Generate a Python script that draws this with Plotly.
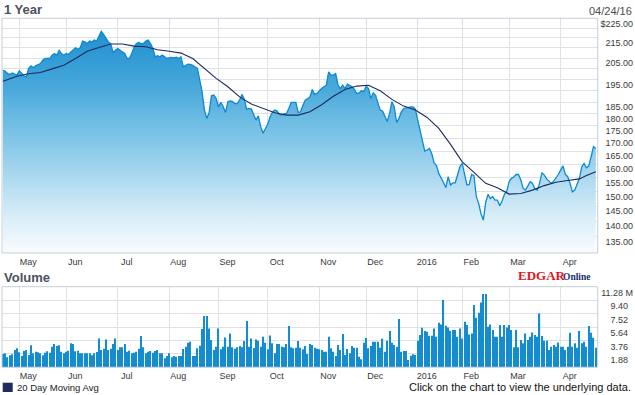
import math
import plotly.graph_objects as go

# ---------------- data ----------------
# trading-day index 0 = 2015-04-22 ... 253 = 2016-04-22
month_idx = [7, 27, 49, 71, 92, 113, 135, 155, 177, 196, 216, 238]
month_labels = ["May", "Jun", "Jul", "Aug", "Sep", "Oct", "Nov", "Dec", "2016", "Feb", "Mar", "Apr"]

price = [
    199.3,
    198.9, 197.8, 197.4, 198.1, 197.5, 197.1, 199.1, 198.1, 196.8, 196.3,
    200.2, 201.4, 200.5, 201.4, 202.0, 202.5, 204.1, 204.9, 204.9, 204.9,
    206.5, 207.3, 206.5, 208.9, 207.3, 206.5, 207.3, 206.8, 208.1, 208.9,
    210.1, 209.4, 210.1, 213.4, 213.0, 212.2, 213.4, 213.0, 213.9, 213.4,
    216.4, 218.4, 216.7, 214.7, 213.0, 212.2, 207.8, 208.9, 209.7, 208.9,
    208.1, 207.3, 204.9, 204.9, 207.3, 210.6, 212.2, 212.7, 212.2, 212.2,
    213.4, 213.9, 212.2, 209.7,
    205.7, 206.2, 205.7, 206.5, 205.7, 204.9, 205.2, 205.4, 205.2, 205.5,
    204.9, 205.7, 200.9, 201.4, 202.2, 202.1, 201.7, 200.9, 200.2, 194.8,
    189.5, 181.6, 178.1, 180.6, 187.8, 188.1, 186.6, 183.0, 184.9, 183.0,
    180.6, 185.2, 185.5, 185.2, 184.4, 184.4, 185.9, 188.4, 186.3, 182.0,
    182.3, 182.0, 179.5, 177.4, 179.2, 174.7, 172.0, 174.0, 175.7, 178.8,
    180.6, 181.6, 181.2, 179.8, 179.5, 180.0, 180.2, 182.3, 184.9, 184.9,
    184.9, 180.6, 180.9, 183.6,
    185.9, 186.5, 187.3, 190.6, 188.4, 188.8, 190.0, 191.0, 191.8, 192.5,
    198.6, 197.1, 197.1, 197.8, 192.5, 191.0, 192.5, 191.0, 193.0, 192.4,
    191.8, 190.6, 188.8, 189.1, 190.0, 189.6, 192.1, 191.0, 186.6, 189.1,
    188.1, 184.7, 181.6, 181.2, 178.8, 176.8, 180.2, 185.2, 183.0, 176.4,
    178.1, 180.9, 182.3, 182.6, 183.0, 183.0, 183.0, 181.9, 177.5, 173.0,
    170.0, 165.0, 165.4, 166.0, 164.0, 160.5, 159.5, 156.5, 155.0, 153.5,
    151.5, 155.4, 152.4, 153.2,
    153.2, 156.0, 159.1, 160.3, 156.6, 152.4, 152.6, 156.2, 155.8, 148.3,
    146.0, 142.5, 140.4, 146.3, 149.1, 147.7, 148.3, 147.1, 147.1, 145.2,
    146.8, 149.1, 150.2, 153.6, 154.8, 155.3, 156.2, 156.2, 154.2, 151.2,
    150.6, 152.2, 153.6, 153.0, 151.0, 150.6, 153.0, 156.9, 156.0, 154.6,
    153.6, 153.0, 153.8, 154.8, 156.2, 157.8, 159.4, 156.2, 155.4, 153.0,
    150.0, 150.6, 153.0, 154.8, 159.1, 160.3, 158.7, 159.4, 162.9, 166.7,
    166.0,
]

ma_idx = [0, 6, 11, 16, 21, 26, 31, 36, 41, 46, 51, 56, 61, 66, 71, 76, 81, 86,
          91, 96, 101, 106, 111, 116, 121, 126, 131, 136, 141, 146, 151, 156,
          161, 166, 171, 176, 181, 186, 191, 196, 201, 206, 211, 216, 221, 226,
          231, 236, 241, 246, 249, 253]
ma_val = [194.3, 196.6, 197.7, 198.3, 200.0, 201.7, 204.9, 208.4, 210.2, 212.0,
          212.0, 210.9, 210.6, 209.1, 208.4, 207.5, 204.9, 200.2, 195.6, 191.8,
          187.3, 184.2, 182.3, 180.5, 179.5, 179.5, 180.9, 183.9, 187.6, 190.6,
          192.1, 192.5, 190.0, 186.2, 183.3, 181.6, 178.5, 174.0, 167.6, 160.9,
          157.0, 153.0, 151.4, 149.2, 149.4, 150.6, 152.2, 153.4, 154.0, 154.6,
          155.8, 157.2]

volume = [  # millions of shares
    1.86, 1.95, 1.39, 1.67, 1.81, 2.42, 2.65, 2.09, 1.58, 2.28,
    2.42, 1.72, 3.07, 1.95, 2.19, 2.09, 1.95, 1.67, 2.05, 2.23,
    2.05, 2.89, 3.26, 2.98, 3.07, 2.19, 1.95, 2.19, 2.33, 3.35,
    3.26, 2.23, 2.33, 1.95, 1.95, 1.95, 1.95, 1.95, 1.67, 1.95,
    2.14, 4.05, 2.42, 2.61, 3.91, 2.42, 2.61, 3.26, 4.05, 2.42,
    2.79, 2.79, 3.26, 2.19, 2.33, 1.95, 2.05, 2.19, 2.61, 4.38,
    2.79, 1.95, 2.19, 2.28, 2.05, 2.28, 2.42, 1.95, 1.95, 1.25,
    1.58, 1.95, 1.39, 1.58, 1.49, 1.58, 1.58, 2.56, 2.89, 3.45,
    3.59, 1.58, 1.58, 2.65, 3.03, 5.36, 7.18, 7.18, 5.45, 3.82,
    2.42, 2.89, 5.45, 2.51, 2.89, 4.19, 2.89, 4.75, 2.79, 2.61,
    2.79, 2.98, 2.79, 3.68, 6.48, 2.89, 4.05, 2.70, 3.91, 3.73,
    2.89, 4.29, 3.45, 2.51, 4.47, 3.35, 1.95, 3.26, 3.26, 2.89,
    2.79, 3.26, 5.78, 2.79, 2.65, 2.75, 3.68, 2.75, 2.51, 2.98,
    1.86, 3.26, 3.12, 2.75, 2.61,
    2.51, 2.42, 2.19, 2.19, 4.29, 2.65, 2.19, 1.58, 3.12, 2.42,
    4.66, 1.72, 2.56, 1.95, 2.98, 2.75, 2.75, 1.49, 1.11, 3.45,
    4.10, 2.65, 2.98, 3.59, 3.59, 3.59, 2.75, 4.01, 2.19, 3.73,
    5.08, 3.45, 3.12, 2.89, 6.76, 2.19, 2.28, 2.28, 1.02, 1.63,
    1.81, 1.72, 3.73, 4.52, 5.55, 5.08, 4.99, 4.43, 4.43, 5.45,
    4.29, 6.25, 6.01, 9.42, 5.83, 5.59, 5.13, 5.22, 5.22, 4.29,
    5.45, 4.05, 6.39, 5.92, 4.61, 4.75, 8.72, 6.95, 7.65, 9.09,
    10.26, 10.26, 5.69, 6.01, 5.22, 4.29, 4.29, 5.92, 4.29, 5.92,
    5.59, 5.92, 5.22, 2.79, 5.22, 2.79, 3.82, 3.35, 4.75, 3.82,
    4.29, 4.89, 4.52, 4.29, 7.55, 4.38, 3.73, 3.73, 2.42, 2.89,
    3.12, 2.89, 3.49, 2.89, 2.89, 2.42, 2.89, 4.85, 2.89, 3.35,
    2.75, 5.08, 3.35, 3.59, 2.89, 5.78, 4.85, 4.15, 2.75,
]

price_ticks = [135, 140, 145, 150, 155, 160, 165, 170, 175, 180, 185, 190, 195,
               200, 205, 210, 215, 220, 225]
price_ticktext = ["135.00", "140.00", "145.00", "150.00", "155.00", "160.00",
                  "165.00", "170.00", "175.00", "180.00", "185.00", "", "195.00",
                  "", "205.00", "", "215.00", "", "$225.00"]
price_range = [130, 225]

vol_ticks = [1.88, 3.76, 5.64, 7.52, 9.40, 11.28]
vol_ticktext = ["1.88\u00a0\u00a0", "3.76\u00a0\u00a0", "5.64\u00a0\u00a0",
                "7.52\u00a0\u00a0", "9.40\u00a0\u00a0", "11.28 M"]
vol_range = [0, 11.28]

days = list(range(len(price)))

# ---------------- layout helpers ----------------
W, H = 635, 395
FONT = "Liberation Sans, Arial, sans-serif"
GRID = "#dde1e8"
BORDER = "#c8ced8"
TICKC = "#3a3a3a"
x_dom = [2 / W, 597.7 / W]
price_dom = [1 - 253 / H, 1 - 18.3 / H]
vol_dom = [1 - 367.3 / H, 1 - 286.7 / H]
x_range = [-0.38, 253.8]
ypos = 633 / W

fig = go.Figure()

fig.add_trace(go.Scatter(
    x=days, y=price, mode="lines", xaxis="x", yaxis="y",
    line=dict(color="#0b8ad2", width=1.3),
    fill="tozeroy",
    fillgradient=dict(
        type="vertical", start=price_range[0], stop=price_range[1],
        colorscale=[[0.0, "#f9fcfe"], [0.03, "#f3f9fd"], [0.14, "#dceff9"],
                    [0.29, "#b5ddf1"], [0.44, "#8bcbea"], [0.57, "#6cbce3"],
                    [0.69, "#4caadb"], [0.78, "#3aa0d7"], [0.89, "#2a95d2"],
                    [1.0, "#1a8bcd"]]),
    hoverinfo="skip", showlegend=False,
))
fig.add_trace(go.Scatter(
    x=ma_idx, y=ma_val, mode="lines", xaxis="x", yaxis="y",
    line=dict(color="#1c2a5e", width=1.1),
    hoverinfo="skip", showlegend=False,
))
fig.add_trace(go.Bar(
    x=days, y=volume, xaxis="x2", yaxis="y2", width=0.5,
    marker=dict(color="#168cd0", line=dict(width=0)),
    hoverinfo="skip", showlegend=False,
))

xcommon = dict(domain=x_dom, range=x_range, tickmode="array", tickvals=month_idx,
               ticktext=month_labels, ticks="", showgrid=True, gridcolor=GRID,
               gridwidth=1, zeroline=False, showline=False, ticklabelshift=9,
               ticklabelstandoff=2, automargin=False,
               tickfont=dict(family=FONT, size=9, color=TICKC))

fig.update_layout(
    width=W, height=H, autosize=False,
    margin=dict(l=0, r=0, t=0, b=0, pad=0, autoexpand=False),
    paper_bgcolor="white", plot_bgcolor="white",
    hovermode=False, showlegend=False,
    xaxis=dict(anchor="y", **xcommon),
    xaxis2=dict(anchor="y2", **xcommon),
    yaxis=dict(type="log", domain=price_dom,
               range=[math.log10(price_range[0]), math.log10(price_range[1]) + 0.0002],
               tickmode="array", tickvals=price_ticks, ticktext=price_ticktext,
               side="left", anchor="free", position=ypos, ticks="",
               showgrid=True, gridcolor=GRID, gridwidth=1, zeroline=False,
               showline=False, ticklabelshift=5, automargin=False,
               tickfont=dict(family=FONT, size=9, color=TICKC)),
    yaxis2=dict(domain=vol_dom, range=[vol_range[0], vol_range[1] * 1.0005],
                tickmode="array", tickvals=vol_ticks, ticktext=vol_ticktext,
                side="left", anchor="free", position=ypos, ticks="",
                showgrid=True, gridcolor=GRID, gridwidth=1, zeroline=False,
                showline=False, ticklabelshift=6, automargin=False,
                tickfont=dict(family=FONT, size=9, color=TICKC)),
    shapes=[
        dict(type="rect", xref="x domain", yref="y domain", x0=0, x1=1, y0=0, y1=1,
             line=dict(color=BORDER, width=1), layer="above"),
        dict(type="rect", xref="x2 domain", yref="y2 domain", x0=0, x1=1, y0=0, y1=1,
             line=dict(color=BORDER, width=1), layer="above"),
        dict(type="rect", xref="paper", yref="paper", x0=2.7 / W, x1=12.7 / W,
             y0=1 - 392 / H, y1=1 - 382.7 / H, fillcolor="#1f2d5e",
             line=dict(width=0)),
    ],
    annotations=[
        dict(text="<b>1 Year</b>", x=1.5 / W, y=1 - 9.5 / H, xref="paper", yref="paper",
             xanchor="left", yanchor="middle", showarrow=False,
             font=dict(family=FONT, size=13, color="#4b5262")),
        dict(text="<b>Volume</b>", x=1.5 / W, y=1 - 277.3 / H, xref="paper", yref="paper",
             xanchor="left", yanchor="middle", showarrow=False,
             font=dict(family=FONT, size=13, color="#4b5262")),
        dict(text="04/24/16", x=634 / W, y=1 - 10.8 / H, xref="paper", yref="paper",
             xanchor="right", yanchor="middle", showarrow=False,
             font=dict(family=FONT, size=11, color="#4d4d4d")),
        dict(text="<b>EDGAR</b>", x=516 / W, y=1 - 275.5 / H, xref="paper", yref="paper",
             xanchor="left", yanchor="middle", showarrow=False,
             font=dict(family="Liberation Serif, Times New Roman, serif", size=13,
                       color="#e3171e")),
        dict(text="<b>Online</b>", x=561 / W, y=1 - 277 / H, xref="paper", yref="paper",
             xanchor="left", yanchor="middle", showarrow=False,
             font=dict(family="Liberation Serif, Times New Roman, serif", size=9.5,
                       color="#1c2d6a")),
        dict(text="20 Day Moving Avg", x=14.5 / W, y=1 - 387.3 / H, xref="paper",
             yref="paper", xanchor="left", yanchor="middle", showarrow=False,
             font=dict(family=FONT, size=9.5, color="#222222")),
        dict(text="Click on the chart to view the underlying data.", x=632.5 / W,
             y=1 - 387.3 / H, xref="paper", yref="paper", xanchor="right",
             yanchor="middle", showarrow=False,
             font=dict(family=FONT, size=11, color="#111111")),
    ],
)

# pin the graph to the page's top-left corner (no default body margin)
pin = ("document.body.style.margin='0';"
       "var g=document.getElementById('{plot_id}');"
       "g.style.position='absolute';g.style.left='0px';g.style.top='0px';")
fig.write_html("out.html", post_script=pin, config={"displayModeBar": False})
